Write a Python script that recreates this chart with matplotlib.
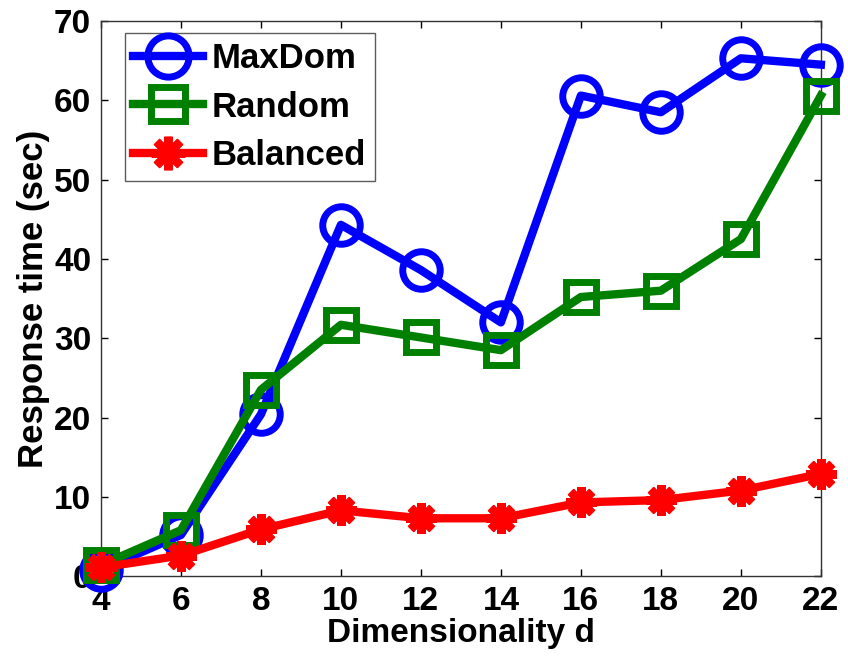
import matplotlib
matplotlib.use("Agg")
import matplotlib.pyplot as plt

dims = [4, 6, 8, 10, 12, 14, 16, 18, 20, 22]
maxdom = [0.8, 5.2, 20.4, 44.3, 38.6, 32.0, 60.6, 58.5, 65.3, 64.5]
random_ = [1.4, 5.8, 23.5, 31.7, 30.1, 28.5, 35.2, 36.0, 42.5, 60.6]
balanced = [1.1, 2.6, 5.9, 8.3, 7.3, 7.3, 9.3, 9.6, 10.8, 12.9]
xticks = [4, 6, 8, 10, 12, 14, 16, 18, 20, 22]
yticks = [0, 10, 20, 30, 40, 50, 60, 70]

plt.rcParams['font.family'] = ['Liberation Sans', 'DejaVu Sans']
plt.rcParams['font.weight'] = 'bold'

fig = plt.figure(figsize=(8.48, 6.57), dpi=100)
ax = fig.add_axes([0.119, 0.123, 0.849, 0.845])

lw = 6
ax.plot(dims, maxdom, color='#0000ff', lw=lw, marker='o', ms=27, mfc='none',
        mew=5, label='MaxDom', clip_on=False, zorder=3)
ax.plot(dims, random_, color='#008000', lw=lw, marker='s', ms=22, mfc='none',
        mew=5, label='Random', clip_on=False, zorder=4)
ax.plot(dims, balanced, color='#ff0000', lw=lw, marker=(8, 2, 0), ms=22,
        mew=6, label='Balanced', clip_on=False, zorder=5)

ax.set_xlim(4, 22)
ax.set_ylim(0, 70)
ax.set_xticks(xticks)
ax.set_yticks(yticks)
ax.tick_params(direction='in', top=True, right=True, length=5, width=1,
               labelsize=24, pad=7)
for lab in ax.get_xticklabels() + ax.get_yticklabels():
    lab.set_fontweight('bold')
for s in ax.spines.values():
    s.set_linewidth(1)
    s.set_color('#333333')

ax.set_xlabel('Dimensionality d', fontsize=24, fontweight='bold', labelpad=1)
ax.set_ylabel('Response time (sec)', fontsize=25, fontweight='bold', labelpad=3)

leg = ax.legend(loc='upper left', bbox_to_anchor=(0.033, 0.978), fontsize=25,
                frameon=True, fancybox=False, edgecolor='#333333',
                handlelength=2.0, handletextpad=0.25, borderpad=0.25,
                borderaxespad=0, labelspacing=0.45, markerscale=1.1)
leg.get_frame().set_linewidth(1)
for t in leg.get_texts():
    t.set_fontweight('bold')

fig.savefig('out.png', dpi=100)
